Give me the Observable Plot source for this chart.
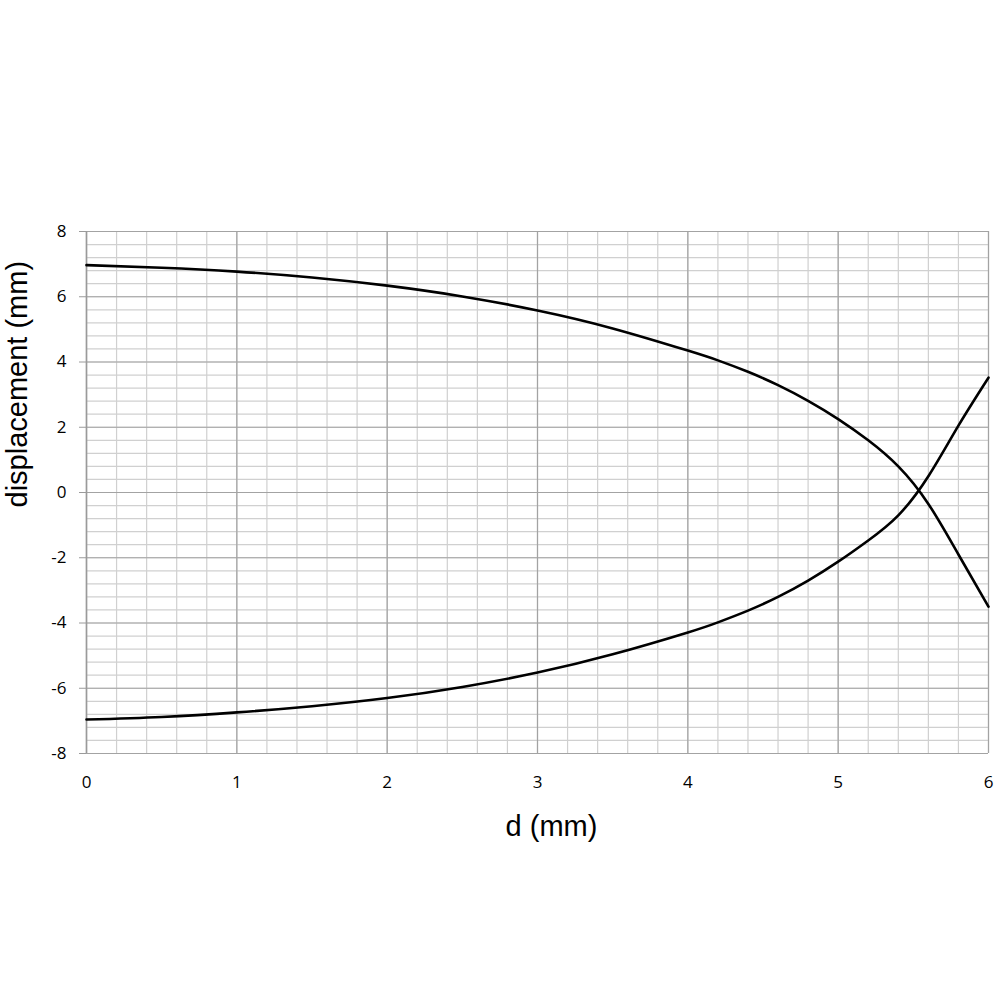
<!DOCTYPE html>
<html>
<head>
<meta charset="utf-8">
<script src="https://cdn.jsdelivr.net/npm/d3@7"></script>
<script src="https://cdn.jsdelivr.net/npm/@observablehq/plot@0.6"></script>
<style>
  html, body { margin: 0; padding: 0; background: white; }
</style>
</head>
<body>
<div id="chart"></div>
<script>
// Data
const dUpper = [0, 0.5, 1, 1.5, 2, 2.5, 3, 3.5, 4, 4.2, 4.4, 4.6, 4.8, 5, 5.2, 5.4, 5.6, 5.8, 6];
const vUpper = [6.97, 6.89, 6.77, 6.59, 6.34, 6.01, 5.58, 5.03, 4.35, 4.05, 3.70, 3.29, 2.81, 2.25, 1.6, 0.8, -0.35, -1.9, -3.5];
const dLower = [0, 0.5, 1, 1.5, 2, 2.5, 3, 3.5, 4, 4.2, 4.4, 4.6, 4.8, 5, 5.2, 5.4, 5.6, 5.8, 6];
const vLower = [-6.96, -6.88, -6.74, -6.55, -6.3, -5.96, -5.52, -4.96, -4.29, -3.98, -3.62, -3.20, -2.70, -2.12, -1.47, -0.7, 0.5, 2.05, 3.52];

const xMajorTicks = [0, 1, 2, 3, 4, 5, 6];
const yMajorTicks = [-8, -6, -4, -2, 0, 2, 4, 6, 8];
const xMinorTicks = d3.range(0, 31).map(i => i / 5);        // every 0.2
const yMinorTicks = d3.range(0, 41).map(i => -8 + i * 0.4); // every 0.4

const xLabel = "d (mm)";
const yLabel = "displacement (mm)";

const upper = dUpper.map((d, i) => ({d, v: vUpper[i]}));
const lower = dLower.map((d, i) => ({d, v: vLower[i]}));

const chart = Plot.plot({
  width: 1000,
  height: 1000,
  marginLeft: 86,
  marginRight: 12,
  marginTop: 231,
  marginBottom: 247,
  style: {fontFamily: "'Open Sans', sans-serif", fontSize: "17px", background: "white", color: "black"},
  x: {domain: [0, 6]},
  y: {domain: [-8, 8]},
  marks: [
    Plot.gridX(xMinorTicks, {stroke: "#d0d0d0", strokeOpacity: 1, strokeWidth: 1.2}),
    Plot.gridY(yMinorTicks, {stroke: "#d0d0d0", strokeOpacity: 1, strokeWidth: 1.2}),
    Plot.gridX(xMajorTicks, {stroke: "#a3a3a3", strokeOpacity: 1, strokeWidth: 1.2}),
    Plot.gridY(yMajorTicks, {stroke: "#a3a3a3", strokeOpacity: 1, strokeWidth: 1.2}),
    Plot.ruleX([0], {stroke: "#9a9a9a", strokeWidth: 1.5}),
    Plot.axisY({ticks: yMajorTicks, tickFormat: d => String(d), tickSize: 7, tickPadding: 13,
      stroke: "#9a9a9a", fill: "black", label: null, fontSize: 17}),
    Plot.axisX({ticks: xMajorTicks, tickFormat: d => String(d), tickSize: 0, tickPadding: 22,
      fill: "black", label: null, fontSize: 17}),
    Plot.line(upper, {x: "d", y: "v", curve: "natural", stroke: "black", strokeWidth: 2.6}),
    Plot.line(lower, {x: "d", y: "v", curve: "natural", stroke: "black", strokeWidth: 2.6}),
    Plot.text([xLabel], {text: d => d, frameAnchor: "bottom", lineAnchor: "bottom", dx: 14, dy: 82,
      fontSize: 29, fontFamily: "'Liberation Sans', Arial, sans-serif", fill: "black"}),
    Plot.text([yLabel], {text: d => d, frameAnchor: "left", lineAnchor: "bottom", rotate: -90, dx: -60, dy: 15,
      fontSize: 29, fontFamily: "'Liberation Sans', Arial, sans-serif", fill: "black"})
  ]
});
document.getElementById("chart").appendChild(chart);
</script>
</body>
</html>
